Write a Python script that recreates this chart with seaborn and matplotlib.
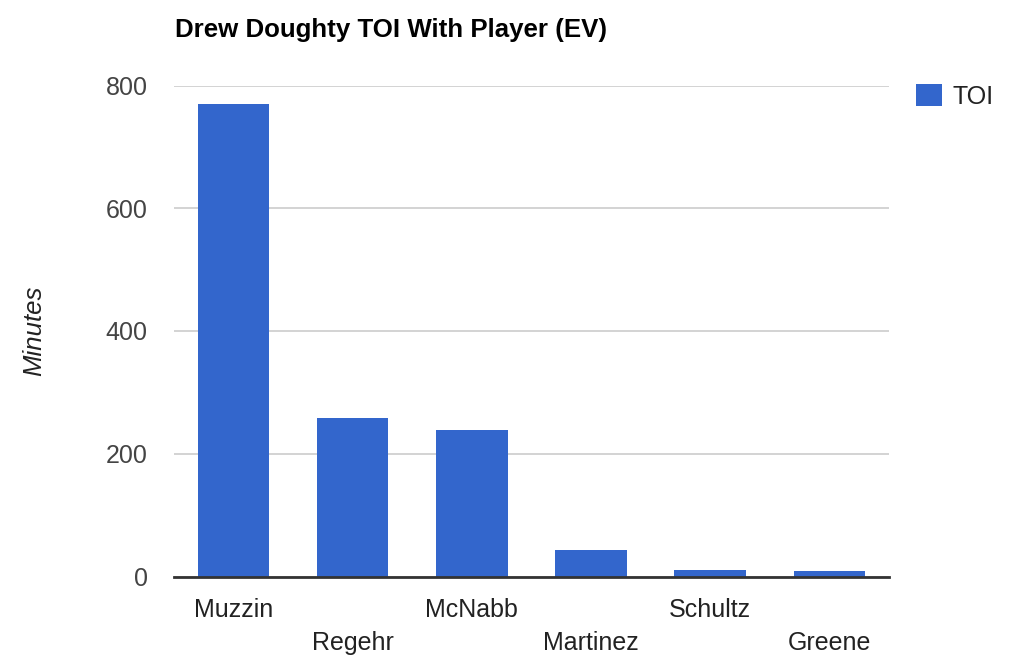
import pandas as pd
import matplotlib
matplotlib.use("Agg")
import matplotlib.pyplot as plt
import seaborn as sns

players = ["Muzzin", "Regehr", "McNabb", "Martinez", "Schultz", "Greene"]
toi = [770, 258, 239, 43, 11, 9]
y_ticks = [0, 200, 400, 600, 800]

df = pd.DataFrame({"player": players, "toi": toi})

sns.set_style("white")
plt.rcParams["font.family"] = ["Liberation Sans", "DejaVu Sans"]

fig = plt.figure(figsize=(10.2, 6.66), dpi=100)
ax = fig.add_axes([174 / 1020, 1 - 576.5 / 666, (889 - 174) / 1020, (576.5 - 85.5) / 666])

sns.barplot(data=df, x="player", y="toi", color="#3366cc", saturation=1,
            width=0.6, label="TOI", linewidth=0, ax=ax, zorder=3)

ax.set_xlim(-0.5, len(players) - 0.5)
ax.set_ylim(0, 800)
ax.set_yticks(y_ticks)
ax.yaxis.grid(True, color="#cccccc", linewidth=1.2, zorder=0)
ax.set_axisbelow(True)
for s in ["top", "right", "left"]:
    ax.spines[s].set_visible(False)
ax.spines["bottom"].set_color("#333333")
ax.spines["bottom"].set_linewidth(2)
ax.spines["bottom"].set_zorder(5)

ax.tick_params(axis="y", length=0, pad=19, labelsize=18, labelcolor="#444444")
ax.tick_params(axis="x", length=0, labelsize=18, labelcolor="#222222")
for i, tick in enumerate(ax.xaxis.get_major_ticks()):
    tick.set_pad(15.5 if i % 2 == 0 else 39.5)

ax.set_xlabel("")
ax.set_ylabel("Minutes", fontsize=18.5, style="italic", color="#222222", labelpad=43)

fig.text(175 / 1020, 1 - 30 / 666, "Drew Doughty TOI With Player (EV)",
         fontsize=18.6, fontweight="bold", color="#000000", va="center", ha="left")

ax.legend(loc="upper left", bbox_to_anchor=(916 / 1020, 1 - 84 / 666),
          bbox_transform=fig.transFigure, frameon=False, fontsize=18,
          handlelength=1.05, handleheight=1.0, handletextpad=0.42,
          borderpad=0, borderaxespad=0, labelcolor="#222222")

fig.savefig("out.png", dpi=100)
